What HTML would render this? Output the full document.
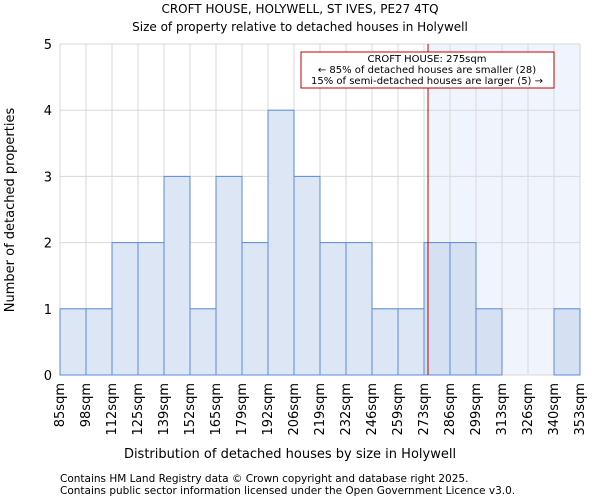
<!DOCTYPE html>
<html><head><meta charset="utf-8"><style>
body{margin:0;background:#fff;font-family:"DejaVu Sans","Liberation Sans",sans-serif;}
svg text{font-family:"DejaVu Sans","Liberation Sans",sans-serif;fill:#000;}
</style></head><body>
<svg id="c" width="600" height="500" xmlns="http://www.w3.org/2000/svg"></svg>
<script>
const categories=["85sqm","98sqm","112sqm","125sqm","139sqm","152sqm","165sqm","179sqm","192sqm","206sqm","219sqm","232sqm","246sqm","259sqm","273sqm","286sqm","299sqm","313sqm","326sqm","340sqm","353sqm"];
const counts=[1,1,2,2,3,1,3,2,4,3,2,2,1,1,2,2,1,0,0,1];
const yTicks=[0,1,2,3,4,5];
const markerIndex=14+2/13;
const svg=document.getElementById('c');const NS='http://www.w3.org/2000/svg';
const L=60,R=580,T=44,B=375,n=counts.length,bw=(R-L)/n;
const x=i=>L+i*bw, y=v=>B-(v/5)*(B-T);
function mk(t,a,txt){const e=document.createElementNS(NS,t);for(const k in a)e.setAttribute(k,a[k]);if(txt!==undefined)e.textContent=txt;svg.appendChild(e);return e;}
const mx=x(markerIndex);
let e=mk('rect',{x:mx,y:T,width:R-mx,height:B-T,fill:'#f0f4fc'});

for(let i=0;i<=n;i++){e=mk('line',{x1:x(i),x2:x(i),y1:T,y2:B,stroke:'#d8d8d8'});}
yTicks.forEach(v=>{e=mk('line',{x1:L,x2:R,y1:y(v),y2:y(v),stroke:'#d8d8d8'});
e=mk('text',{x:L-8,y:y(v)+5,'text-anchor':'end','font-size':13},v);});
counts.forEach((v,i)=>{if(v>0){e=mk('rect',{x:x(i),y:y(v),width:bw,height:B-y(v),fill:i>=14?'#d5e0f2':'#dce6f4',stroke:'#5b8bd6','stroke-width':1});}});
categories.forEach((c,i)=>{const tx=x(i)+4;e=mk('text',{x:tx,y:B+8,'text-anchor':'end','font-size':13,transform:`rotate(-90 ${tx} ${B+8})`},c);});
e=mk('line',{x1:mx,x2:mx,y1:T,y2:B,stroke:'#c00000','stroke-width':1});
e=mk('rect',{x:301,y:52,width:253,height:36,fill:'#fff',stroke:'#c00000'});
[["CROFT HOUSE: 275sqm",64],["← 85% of detached houses are smaller (28)",75],["15% of semi-detached houses are larger (5) →",86]].forEach(a=>{e=mk('text',{x:427,y:a[1]-2,'text-anchor':'middle','font-size':10},a[0]);});
e=mk('text',{x:300,y:13,'text-anchor':'middle','font-size':12},"CROFT HOUSE, HOLYWELL, ST IVES, PE27 4TQ");
e=mk('text',{x:300,y:31,'text-anchor':'middle','font-size':12},"Size of property relative to detached houses in Holywell");
e=mk('text',{x:290,y:458,'text-anchor':'middle','font-size':13},"Distribution of detached houses by size in Holywell");
e=mk('text',{x:14,y:210,'text-anchor':'middle','font-size':13,transform:'rotate(-90 14 210)'},"Number of detached properties");
e=mk('text',{x:60,y:482,'font-size':10.5},"Contains HM Land Registry data © Crown copyright and database right 2025.");
e=mk('text',{x:60,y:494,'font-size':10.5},"Contains public sector information licensed under the Open Government Licence v3.0.");
</script>
</body></html>
